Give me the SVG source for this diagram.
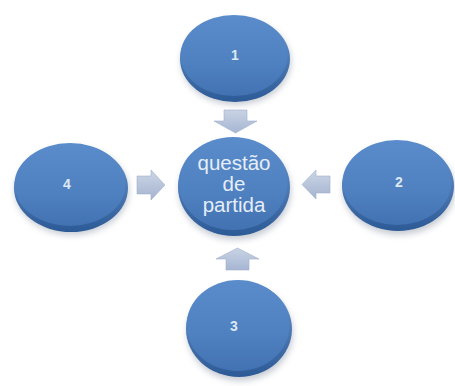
<svg xmlns="http://www.w3.org/2000/svg" width="455" height="386" viewBox="0 0 455 386">
<defs>
  <linearGradient id="face" x1="0" y1="0" x2="0" y2="1">
    <stop offset="0" stop-color="#5a8ccb"/>
    <stop offset="0.6" stop-color="#4f80bf"/>
    <stop offset="1" stop-color="#4272b2"/>
  </linearGradient>
  <linearGradient id="rim" x1="0" y1="0" x2="0" y2="1">
    <stop offset="0" stop-color="#6f9ad2"/>
    <stop offset="1" stop-color="#2c5a96"/>
  </linearGradient>
  <linearGradient id="arrV" x1="0" y1="0" x2="0" y2="1">
    <stop offset="0" stop-color="#c9d3e4"/>
    <stop offset="1" stop-color="#a6b6d2"/>
  </linearGradient>
  <linearGradient id="arrH" x1="0" y1="0" x2="0" y2="1">
    <stop offset="0" stop-color="#cdd6e6"/>
    <stop offset="1" stop-color="#a3b3cf"/>
  </linearGradient>
  <filter id="sh" x="-30%" y="-30%" width="160%" height="160%">
    <feGaussianBlur stdDeviation="3"/>
  </filter>
</defs>
<style>
  .shadow{fill:#9aa3b0;opacity:0.55;filter:url(#sh)}
  .rim{fill:url(#rim)}
  .face{fill:url(#face)}
  .lbl{font-family:"Liberation Sans",Arial,sans-serif;font-size:14px;font-weight:bold;fill:#dde8f5;text-anchor:middle}
  .big{font-family:"Liberation Sans",Arial,sans-serif;font-size:20.5px;fill:#e6eef8;text-anchor:middle}
  .arr{stroke:#9fb0cc;stroke-width:0.6}
</style>
<rect width="455" height="386" fill="#ffffff"/>

<g id="connectors">
  <path class="arr" fill="url(#arrV)" d="M224,110 L247,110 L247,121 L257,121 L235.5,133 L214,121 L224,121 Z"/>
  <path class="arr" fill="url(#arrH)" d="M137,176 L151,176 L151,170 L165,185 L151,200 L151,194 L137,194 Z"/>
  <path class="arr" fill="url(#arrH)" d="M330,176 L316,176 L316,170 L302,184.5 L316,199 L316,193 L330,193 Z"/>
  <path class="arr" fill="url(#arrV)" d="M226,270 L249,270 L249,259 L259,259 L237.5,248 L216,259 L226,259 Z"/>
</g>

<g id="node-1">
  <ellipse class="shadow" cx="236" cy="62" rx="55" ry="43"/>
  <ellipse class="rim" cx="235" cy="59" rx="55" ry="43"/>
  <ellipse class="face" cx="234" cy="55.5" rx="53.5" ry="40.5"/>
  <text class="lbl" x="235" y="60">1</text>
</g>

<g id="node-center">
  <ellipse class="shadow" cx="235" cy="191" rx="56" ry="49"/>
  <ellipse class="rim" cx="234" cy="187" rx="56" ry="49"/>
  <ellipse class="face" cx="233" cy="183.5" rx="54.5" ry="46.5"/>
  <text class="big" x="234" y="170">questão</text>
  <text class="big" x="234" y="191">de</text>
  <text class="big" x="234" y="212">partida</text>
</g>

<g id="node-2">
  <ellipse class="shadow" cx="399" cy="190" rx="56" ry="45"/>
  <ellipse class="rim" cx="398" cy="186" rx="56" ry="45"/>
  <ellipse class="face" cx="397" cy="182.5" rx="54.5" ry="42.5"/>
  <text class="lbl" x="399" y="187">2</text>
</g>

<g id="node-4">
  <ellipse class="shadow" cx="72" cy="191" rx="57" ry="44"/>
  <ellipse class="rim" cx="71" cy="188" rx="57" ry="44"/>
  <ellipse class="face" cx="70" cy="184.5" rx="55.5" ry="41.5"/>
  <text class="lbl" x="67" y="189">4</text>
</g>

<g id="node-3">
  <ellipse class="shadow" cx="240" cy="333" rx="53" ry="48"/>
  <ellipse class="rim" cx="239" cy="329" rx="53" ry="48"/>
  <ellipse class="face" cx="238" cy="325.5" rx="51.5" ry="45.5"/>
  <text class="lbl" x="234" y="331">3</text>
</g>
</svg>
